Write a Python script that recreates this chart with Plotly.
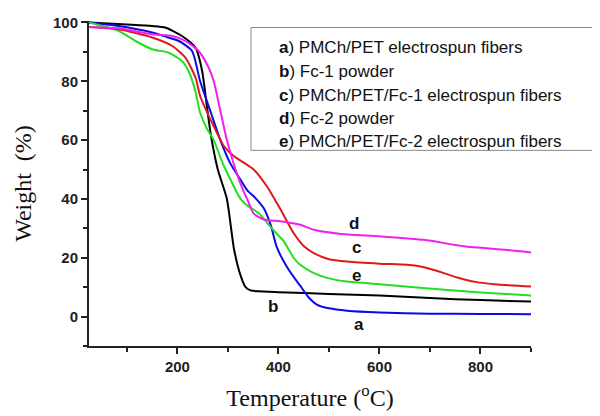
import plotly.graph_objects as go

# ---- data ----
temp_a = [25, 84, 150, 180, 203, 229, 245, 265, 285, 305, 325, 338, 355, 371, 385, 397, 420, 443, 460, 477, 500, 536, 600, 700, 800, 900]
wt_a = [100, 98.8, 96.6, 95, 93.7, 90.3, 80, 70, 60, 52, 46.5, 43, 40.2, 36.8, 31, 23.5, 16, 10.5, 6.5, 4, 2.8, 2.0, 1.4, 1.0, 0.9, 0.8]

temp_b = [25, 100, 150, 176, 209, 236, 249, 258, 266, 280, 298, 312, 325, 335, 345, 360, 400, 500, 600, 700, 800, 900]
wt_b = [100, 99.3, 98.8, 98.3, 95.4, 91.4, 83.5, 72, 62, 50, 40, 23, 14, 10, 8.9, 8.6, 8.3, 7.7, 7.2, 6.3, 5.6, 5.1]

temp_c = [25, 84, 150, 190, 216, 236, 245, 260, 272, 292, 312, 330, 351, 377, 397, 404, 430, 450, 470, 500, 536, 600, 655, 688, 720, 754, 790, 834, 900]
wt_c = [98.5, 97.7, 94.9, 92, 88, 81.2, 75, 69, 64.7, 58, 54.5, 52.5, 50, 44.3, 38.6, 36.5, 28.4, 24, 21.6, 19.5, 18.7, 18, 17.6, 16.8, 15.2, 13.3, 11.8, 10.9, 10.2]

temp_d = [25, 84, 150, 190, 216, 242, 262, 272, 285, 298, 315, 330, 338, 351, 371, 404, 443, 470, 520, 600, 688, 767, 850, 900]
wt_d = [98.5, 98, 96, 95.4, 93.7, 90.3, 84.6, 80, 70, 60, 50, 43, 40, 35, 33, 32.4, 31.2, 29.5, 28.2, 27.3, 26.1, 23.9, 22.7, 21.8]

temp_e = [25, 84, 117, 150, 183, 209, 222, 235, 245, 258, 272, 290, 305, 325, 340, 351, 365, 378, 395, 411, 430, 443, 470, 500, 536, 600, 668, 800, 900]
wt_e = [100, 97.1, 93.7, 90.9, 89.7, 86.9, 83.5, 77, 69.3, 64, 60, 52, 46.6, 40, 37.5, 36.4, 34.5, 31.8, 28.5, 25.5, 20, 17.6, 14.8, 13, 11.9, 11, 10, 8.2, 7.2]

series_keys = ["a", "b", "c", "d", "e"]
series_names = ["PMCh/PET electrospun fibers", "Fc-1 powder", "PMCh/PET/Fc-1 electrospun fibers",
                "Fc-2 powder", "PMCh/PET/Fc-2 electrospun fibers"]
series_colors = ["#0a0ae6", "#000000", "#e01818", "#f020f0", "#20e020"]
series_temps = [temp_a, temp_b, temp_c, temp_d, temp_e]
series_wts = [wt_a, wt_b, wt_c, wt_d, wt_e]

# curve label positions (data coordinates)
label_keys = ["a", "b", "c", "d", "e"]
label_temp = [560, 390, 554, 550, 554]
label_wt = [-2.8, 3.4, 23.5, 31.8, 14.1]

x_ticks = [200, 400, 600, 800]
y_ticks = [0, 20, 40, 60, 80, 100]

fig = go.Figure()
for i in [1, 0, 4, 2, 3]:
    fig.add_trace(go.Scatter(
        x=series_temps[i], y=series_wts[i], mode="lines",
        name=f"{series_keys[i]}) {series_names[i]}",
        line=dict(color=series_colors[i], width=2, shape="spline", smoothing=0.6),
        showlegend=False, hoverinfo="skip"))

for k, tx, wy in zip(label_keys, label_temp, label_wt):
    fig.add_annotation(x=tx, y=wy, xref="x", yref="y", text=f"<b>{k}</b>", showarrow=False,
                       font=dict(family="Arial, Liberation Sans", size=17, color="#111"))

# legend box (text only, as in the reference)
fig.add_shape(type="rect", xref="paper", yref="paper", x0=0.3665, x1=1.145, y0=0.602, y1=0.980,
              line=dict(color="#8a8a8a", width=1), fillcolor="rgba(0,0,0,0)")
leg_y = [0.918, 0.845, 0.772, 0.700, 0.629]
for k, nm, yy in zip(series_keys, series_names, leg_y):
    fig.add_annotation(x=0.425, y=yy, xref="paper", yref="paper", xanchor="left", yanchor="middle",
                       text=f"<b>{k}</b>) {nm}", showarrow=False,
                       font=dict(family="Arial, Liberation Sans", size=17, color="#111"))

# page body has an 8px margin, so the figure is drawn 8px smaller
fig.update_layout(
    width=592, height=408,
    margin=dict(l=81, r=69, t=13, b=70, autoexpand=False),
    paper_bgcolor="white", plot_bgcolor="white",
    showlegend=False,
)
fig.update_xaxes(
    range=[25, 900], showline=True, linecolor="#222", linewidth=2, mirror=False, automargin=False,
    showgrid=False, zeroline=False, ticks="outside", ticklen=6, tickwidth=2, tickcolor="#222",
    tickvals=x_ticks, ticktext=[f"<b>{t}</b>" for t in x_ticks],
    tickfont=dict(family="Arial, Liberation Sans", size=15, color="#222"),
    minor=dict(tickvals=[100, 300, 500, 700, 900], ticks="outside", ticklen=4, tickwidth=1.5, tickcolor="#222"),
    title=dict(text="Temperature (<sup>o</sup>C)",
               font=dict(family="Liberation Serif, Times New Roman", size=24, color="#111")),
)
fig.update_yaxes(
    range=[-10, 100.5], showline=True, linecolor="#222", linewidth=2, mirror=False, automargin=False,
    showgrid=False, zeroline=False, ticks="outside", ticklen=6, tickwidth=2, tickcolor="#222",
    tickvals=y_ticks, ticktext=[f"<b>{t}</b>" for t in y_ticks],
    tickfont=dict(family="Arial, Liberation Sans", size=15, color="#222"),
    minor=dict(tickvals=[-10, 10, 30, 50, 70, 90], ticks="outside", ticklen=4, tickwidth=1.5, tickcolor="#222"),
    title=dict(text="Weight  (%)",
               font=dict(family="Liberation Serif, Times New Roman", size=24, color="#111")),
)

fig.write_html("out.html")
